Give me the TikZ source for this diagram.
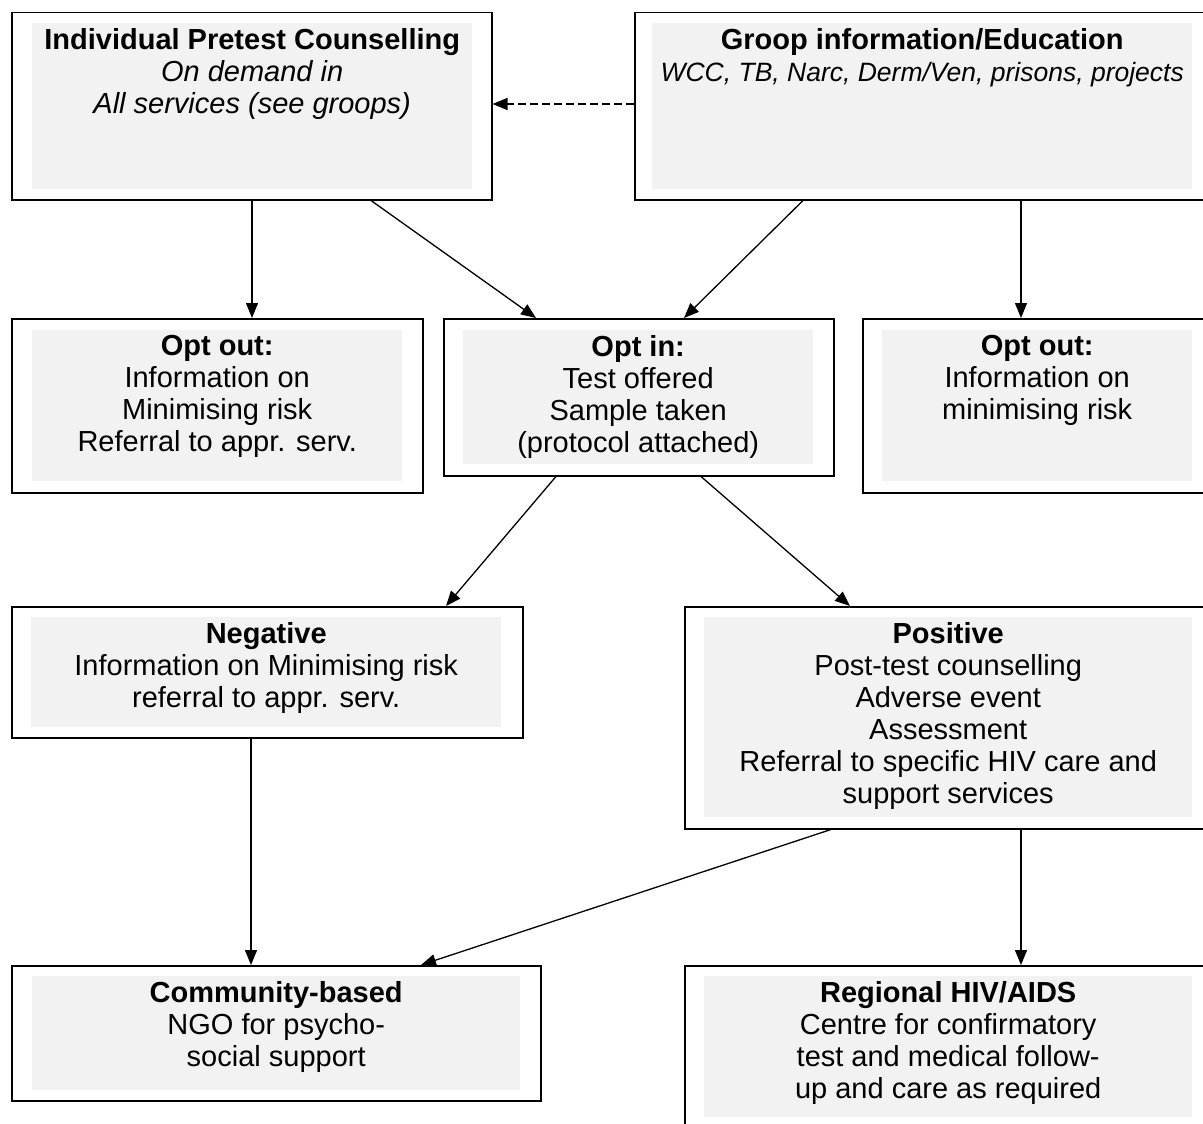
\documentclass[tikz,border=0pt]{standalone}
\usepackage{fontspec}
\setmainfont{Liberation Sans}
\usetikzlibrary{arrows.meta}
\definecolor{boxgrey}{HTML}{F2F2F2}
\begin{document}
\begin{tikzpicture}[x=1pt,y=-1pt,
  outerbox/.style={draw=black, line width=1.5pt, fill=white, inner sep=0pt, anchor=north west},
  greybox/.style={fill=boxgrey, draw=none, inner sep=0pt, anchor=north west},
  txt/.style={anchor=north, align=center, inner sep=0pt, font=\fontsize{29}{32}\selectfont},
  conn/.style={line width=1.3pt, -{Triangle[length=15pt,width=12pt]}},
  dashconn/.style={conn, dash pattern=on 8pt off 4pt},
]
\useasboundingbox (0,0) rectangle (1203,1124);
\clip (0,0) rectangle (1203,1124);
\fill[white] (0,0) rectangle (1203,1124);

% Individual pretest counselling
\node[outerbox, minimum width=480pt, minimum height=187pt] (A) at (11,12) {};
\node[greybox, minimum width=440pt, minimum height=166pt] (Ag) at (32,23) {};
\node[txt] (At) at ([yshift=-5pt]Ag.north) {\textbf{Individual Pretest Counselling}\\\textit{On demand in}\\\textit{All services (see groops)}};

% Groop information
\node[outerbox, minimum width=590pt, minimum height=187pt] (B) at (634,12) {};
\node[greybox, minimum width=540pt, minimum height=166pt] (Bg) at (652,23) {};
\node[txt] (Bt) at ([yshift=-5pt]Bg.north) {\textbf{Groop information/Education}\\{\fontsize{26.5}{32}\selectfont\textit{WCC, TB, Narc, Derm/Ven, prisons, projects}}};

% Opt out left
\node[outerbox, minimum width=411pt, minimum height=174pt] (C) at (11,318) {};
\node[greybox, minimum width=370pt, minimum height=151pt] (Cg) at (32,330) {};
\node[txt] (Ct) at ([yshift=-5pt]Cg.north) {\textbf{Opt out:}\\Information on\\Minimising risk\\Referral to appr. serv.};

% Opt in
\node[outerbox, minimum width=390pt, minimum height=157pt] (D) at (443,318) {};
\node[greybox, minimum width=350pt, minimum height=134pt] (Dg) at (463,330) {};
\node[txt] (Dt) at ([yshift=-5pt]Dg.north) {\textbf{Opt in:}\\Test offered\\Sample taken\\(protocol attached)};

% Opt out right
\node[outerbox, minimum width=360pt, minimum height=174pt] (E) at (862,318) {};
\node[greybox, minimum width=310pt, minimum height=151pt] (Eg) at (882,330) {};
\node[txt] (Et) at ([yshift=-5pt]Eg.north) {\textbf{Opt out:}\\Information on\\minimising risk};

% Negative
\node[outerbox, minimum width=511pt, minimum height=131pt] (F) at (11,606) {};
\node[greybox, minimum width=470pt, minimum height=110pt] (Fg) at (31,617) {};
\node[txt] (Ft) at ([yshift=-5pt]Fg.north) {\textbf{Negative}\\Information on Minimising risk\\referral to appr. serv.};

% Positive
\node[outerbox, minimum width=540pt, minimum height=222pt] (G) at (684,606) {};
\node[greybox, minimum width=488pt, minimum height=200pt] (Gg) at (704,617) {};
\node[txt] (Gt) at ([yshift=-5pt]Gg.north) {\textbf{Positive}\\Post-test counselling\\Adverse event\\Assessment\\Referral to specific HIV care and\\support services};

% Community-based
\node[outerbox, minimum width=529pt, minimum height=135pt] (H) at (11,965) {};
\node[greybox, minimum width=488pt, minimum height=114pt] (Hg) at (32,976) {};
\node[txt] (Ht) at ([yshift=-5pt]Hg.north) {\textbf{Community-based}\\NGO for psycho-\\social support};

% Regional
\node[outerbox, minimum width=540pt, minimum height=190pt] (I) at (684,965) {};
\node[greybox, minimum width=488pt, minimum height=141pt] (Ig) at (704,976) {};
\node[txt] (It) at ([yshift=-5pt]Ig.north) {\textbf{Regional HIV/AIDS}\\Centre for confirmatory\\test and medical follow-\\up and care as required};

% connectors
\draw[dashconn] ([yshift=-92pt]B.north west) -- ([yshift=-92pt]A.north east);
\draw[conn] ([xshift=241pt]A.south west) -- ([xshift=241pt]C.north west);
\draw[conn] ([xshift=360pt]A.south west) -- ([xshift=93pt]D.north west);
\draw[conn] ([xshift=169pt]B.south west) -- ([xshift=241pt]D.north west);
\draw[conn] ([xshift=387pt]B.south west) -- ([xshift=159pt]E.north west);
\draw[conn] ([xshift=113pt]D.south west) -- ([xshift=435pt]F.north west);
\draw[conn] ([xshift=258pt]D.south west) -- ([xshift=166pt]G.north west);
\draw[conn] ([xshift=240pt]F.south west) -- ([xshift=240pt]H.north west);
\draw[conn] ([xshift=147pt]G.south west) -- ([xshift=410pt]H.north west);
\draw[conn] ([xshift=337pt]G.south west) -- ([xshift=337pt]I.north west);
\end{tikzpicture}
\end{document}
